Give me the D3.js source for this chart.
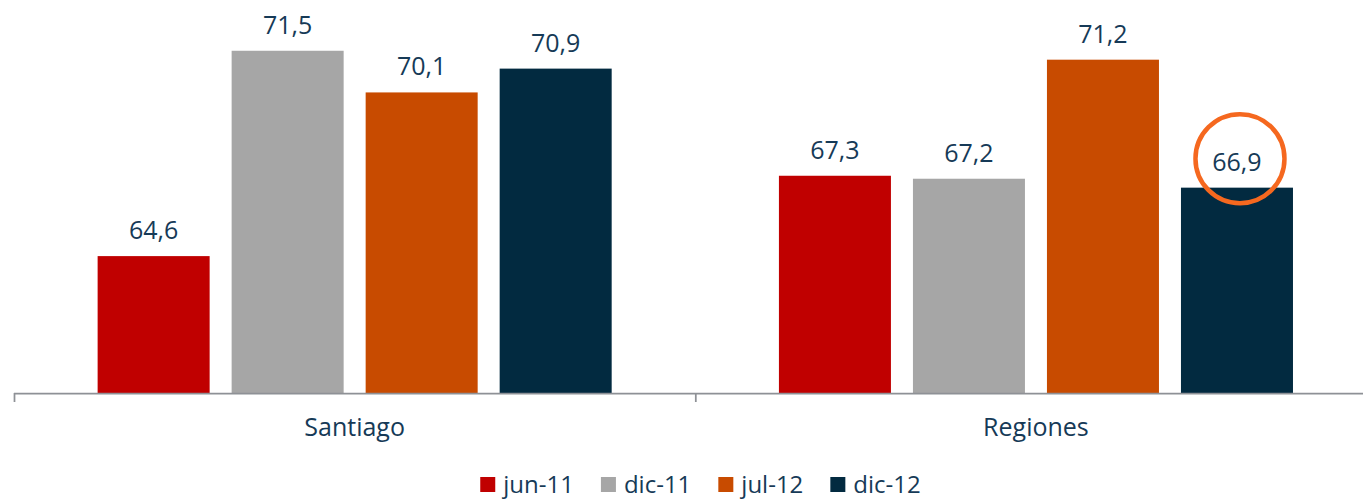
<!DOCTYPE html>
<html>
<head>
<meta charset="utf-8">
<script src="https://cdn.jsdelivr.net/npm/d3@7"></script>
<style>
  html, body { margin: 0; padding: 0; background: #fff; }
  svg { display: block; }
  text { font-family: "Open Sans", sans-serif; fill: #163a57; }
</style>
</head>
<body>
<svg id="chart" width="1363" height="499"></svg>
<script>
const categories = ["Santiago", "Regiones"];
const seriesNames = ["jun-11", "dic-11", "jul-12", "dic-12"];
const seriesColors = ["#C00000", "#A6A6A6", "#C84B00", "#022A40"];
const santiagoValues = [64.6, 71.5, 70.1, 70.9];
const regionesValues = [67.3, 67.2, 71.2, 66.9];
const valuesByCategory = [santiagoValues, regionesValues];
const highlighted = { category: "Regiones", series: "dic-12" };

const svg = d3.select("#chart");

const x0 = d3.scaleBand().domain(categories).range([14, 1376.6]).paddingInner(0).paddingOuter(0);
const x1 = d3.scaleBand().domain(seriesNames).range([0, x0.bandwidth()])
  .paddingInner(22 / 134).paddingOuter(0.624);
const y = d3.scaleLinear().domain([60, 72]).range([393, 393 - 12 * 29.76]);

const fmt = v => d3.format(".1f")(v).replace(".", ",");

const rows = categories.map((c, i) => ({
  category: c,
  values: seriesNames.map((s, j) => ({ category: c, series: s, value: valuesByCategory[i][j], color: seriesColors[j] }))
}));

const groups = svg.selectAll("g.group").data(rows).join("g")
  .attr("class", "group")
  .attr("transform", d => `translate(${x0(d.category)},0)`);

groups.selectAll("rect").data(d => d.values).join("rect")
  .attr("x", d => x1(d.series))
  .attr("width", x1.bandwidth())
  .attr("y", d => y(d.value))
  .attr("height", d => y(60) - y(d.value))
  .attr("fill", d => d.color);

groups.selectAll("text.val").data(d => d.values).join("text")
  .attr("class", "val")
  .attr("x", d => x1(d.series) + x1.bandwidth() / 2)
  .attr("y", d => y(d.value) - 17)
  .attr("text-anchor", "middle")
  .style("font-size", "25px")
  .text(d => fmt(d.value));

// highlight circle
groups.filter(d => d.category === highlighted.category)
  .selectAll("circle.hl").data(d => d.values.filter(v => v.series === highlighted.series)).join("circle")
  .attr("class", "hl")
  .attr("cx", d => x1(d.series) + x1.bandwidth() / 2 + 3)
  .attr("cy", d => y(d.value) - 29)
  .attr("r", 44.5)
  .attr("fill", "none")
  .attr("stroke", "#F5681F")
  .attr("stroke-width", 4.5);

// axis
const axisG = svg.append("g");
const [r0, r1] = x0.range();
axisG.append("line")
  .attr("x1", r0).attr("x2", r1)
  .attr("y1", y(60) + 0.5).attr("y2", y(60) + 0.5)
  .attr("stroke", "#8E9196").attr("stroke-width", 1.75);
const tickPos = categories.map(c => x0(c)).concat([r1]);
axisG.selectAll("line.tick").data(tickPos).join("line")
  .attr("class", "tick")
  .attr("x1", d => d + 0.5).attr("x2", d => d + 0.5)
  .attr("y1", y(60)).attr("y2", y(60) + 9)
  .attr("stroke", "#8E9196").attr("stroke-width", 1.75);
axisG.selectAll("text.cat").data(categories).join("text")
  .attr("class", "cat")
  .attr("x", d => x0(d) + x0.bandwidth() / 2)
  .attr("y", 436)
  .attr("text-anchor", "middle")
  .style("font-size", "25px")
  .text(d => d);

// legend
const legend = svg.append("g");
const items = legend.selectAll("g.item").data(seriesNames).join("g").attr("class", "item");
items.append("rect").attr("width", 15).attr("height", 15).attr("y", 477)
  .attr("fill", (d, i) => seriesColors[i]);
items.append("text").attr("x", 23).attr("y", 493).style("font-size", "24px").text(d => d);
let xpos = 0;
const offsets = [];
items.each(function() {
  offsets.push(xpos);
  const w = 23 + this.querySelector("text").getComputedTextLength();
  xpos += w + 27;
});
const total = xpos - 27;
const start = 700.5 - total / 2;
items.attr("transform", (d, i) => `translate(${start + offsets[i]},0)`);
</script>
</body>
</html>
